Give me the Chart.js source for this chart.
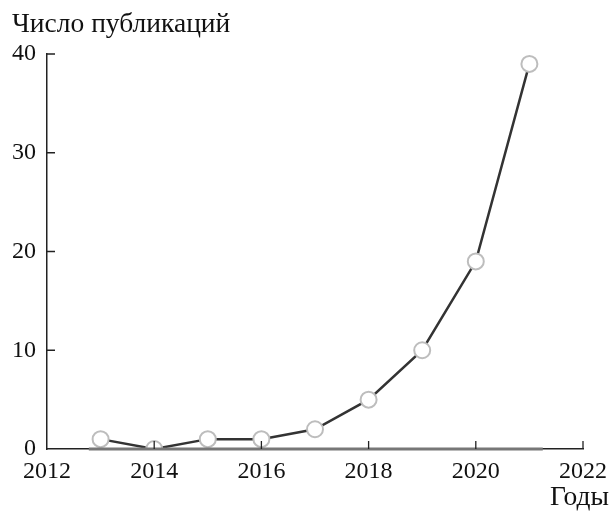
<!DOCTYPE html>
<html><head><meta charset="utf-8">
<script src="https://cdn.jsdelivr.net/npm/chart.js@4"></script>
<style>html,body{margin:0;padding:0;background:#fff}</style>
</head><body>
<canvas id="c" width="612" height="512"></canvas>
<script>
const years = [2013, 2014, 2015, 2016, 2017, 2018, 2019, 2020, 2021];
const counts = [1, 0, 1, 1, 2, 5, 10, 19, 39];
const xTicks = [2012, 2014, 2016, 2018, 2020, 2022];
const yTicks = [0, 10, 20, 30, 40];
const baselineX = [2012.78, 2021.25];
const baselineY = [0, 0];
const yTitle = 'Число публикаций';
const xTitle = 'Годы';

const FONT = '"Liberation Serif", "DejaVu Serif", serif';
const FS = 24;
const TFS = 27.5;

const innerTicks = {
  id: 'innerTicks',
  afterDraw(chart) {
    const {ctx, scales: {x, y}} = chart;
    ctx.save();
    ctx.strokeStyle = '#222';
    ctx.lineWidth = 1.3;
    ctx.beginPath();
    xTicks.forEach(v => {
      if (v === x.min) return;
      const px = x.getPixelForValue(v);
      ctx.moveTo(px, y.bottom); ctx.lineTo(px, y.bottom - 8);
    });
    yTicks.forEach(v => {
      if (v === y.min) return;
      const py = y.getPixelForValue(v);
      ctx.moveTo(x.left, py); ctx.lineTo(x.left + 8, py);
    });
    ctx.stroke();
    ctx.fillStyle = '#111';
    ctx.font = TFS + 'px ' + FONT;
    ctx.textBaseline = 'alphabetic';
    ctx.textAlign = 'left';
    ctx.fillText(yTitle, 12, 32);
    ctx.textAlign = 'right';
    ctx.fillText(xTitle, 609, 505);
    ctx.restore();
  }
};

new Chart(document.getElementById('c'), {
  type: 'line',
  data: {
    datasets: [
      {
        data: baselineX.map((v, i) => ({x: v, y: baselineY[i]})),
        borderColor: '#777',
        borderWidth: 3,
        pointRadius: 0,
        clip: false,
        order: 0
      },
      {
        data: years.map((v, i) => ({x: v, y: counts[i]})),
        borderColor: '#333',
        borderWidth: 2.5,
        tension: 0,
        pointRadius: 8,
        pointBorderWidth: 2,
        pointBorderColor: '#bdbdbd',
        pointBackgroundColor: '#fff',
        clip: 0,
        order: 1
      }
    ]
  },
  options: {
    responsive: false,
    animation: false,
    devicePixelRatio: 1,
    layout: {padding: {top: 54, right: 29, left: 0, bottom: 0}},
    plugins: {legend: {display: false}, tooltip: {enabled: false}},
    scales: {
      x: {
        type: 'linear', min: 2012, max: 2022,
        afterBuildTicks: s => { s.ticks = xTicks.map(v => ({value: v})); },
        afterFit: s => { s.height = 63; s.paddingLeft = 0; s.paddingRight = 0; },
        grid: {drawOnChartArea: false, drawTicks: false},
        border: {display: true, color: '#222', width: 1.5},
        ticks: {color: '#111', font: {family: FONT, size: FS}, padding: 8, maxRotation: 0, autoSkip: false,
                callback: v => String(v)}
      },
      y: {
        min: 0, max: 40,
        afterBuildTicks: s => { s.ticks = yTicks.map(v => ({value: v})); },
        afterFit: s => { s.width = 47; s.paddingTop = 0; s.paddingBottom = 0; },
        grid: {drawOnChartArea: false, drawTicks: false},
        border: {display: true, color: '#222', width: 1.5},
        ticks: {color: '#111', font: {family: FONT, size: FS}, padding: 11}
      }
    }
  },
  plugins: [innerTicks]
});
</script>
</body></html>
